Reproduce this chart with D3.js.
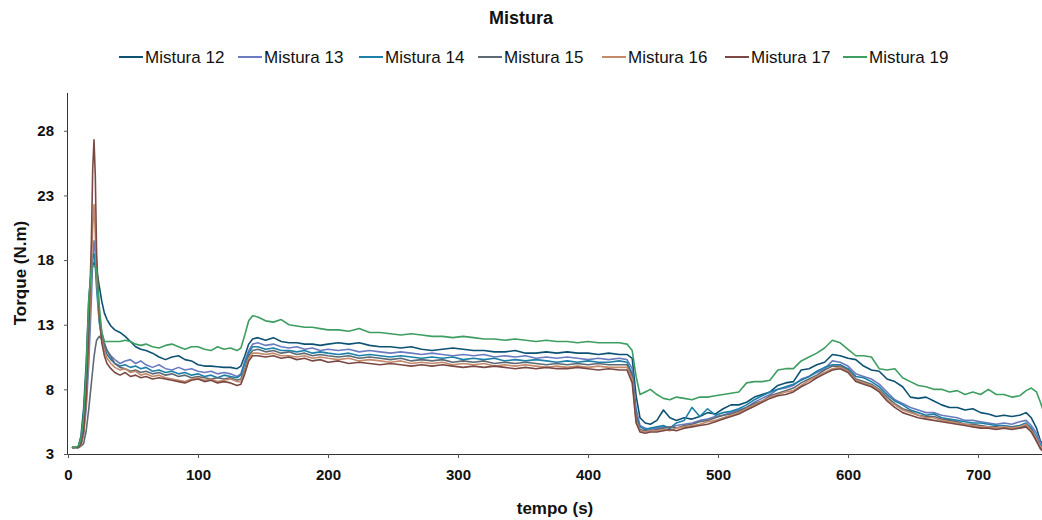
<!DOCTYPE html>
<html><head><meta charset="utf-8">
<script src="https://cdn.jsdelivr.net/npm/d3@7"></script>
<style>
html,body{margin:0;padding:0;background:#fff;}
svg{display:block;font-family:"Liberation Sans",Arial,sans-serif;}
</style></head>
<body>
<svg id="c" width="1042" height="520"></svg>
<script>
// ---------- DATA ----------
const title = "Mistura";
const xLabel = "tempo (s)";
const yLabel = "Torque (N.m)";
const xTicks = [0,100,200,300,400,500,600,700];
const yTicks = [3,8,13,18,23,28];
const seriesNames = ["Mistura 12","Mistura 13","Mistura 14","Mistura 15","Mistura 16","Mistura 17","Mistura 19"];
const seriesColors = ["#0d5173","#6b7bbf","#1c80a8","#5d6a73","#c48a6a","#7a4944","#3e9e62"];

const tempo = [3,5,8,10,12,14,16,18,19,20,21,22,24,26,28,30,33,36,40,44,48,52,56,60,65,70,75,80,85,90,95,100,105,110,115,120,125,130,133,136,139,142,
146,152,158,164,170,176,182,188,194,200,208,216,224,232,240,248,256,264,272,280,288,296,304,312,320,328,336,344,352,360,368,376,384,392,400,408,416,424,430,
434,437,440,444,448,
453,458,463,468,474,480,486,492,498,504,510,516,522,528,534,540,546,552,558,564,570,576,582,588,594,600,606,612,618,624,630,636,642,648,654,660,666,672,678,684,690,696,702,708,714,720,726,732,737,741,745,748,750];

const mistura12 = [3.5,3.5,3.6,4.4,6.5,10.0,15.0,17.3,17.6,17.8,17.6,17.3,16.0,14.8,13.9,13.4,12.9,12.6,12.4,12.1,11.7,11.3,11.1,11.0,10.8,10.5,10.3,10.5,10.6,10.3,10.2,9.9,9.8,9.8,9.75,9.7,9.7,9.6,9.8,10.6,11.5,11.9,
12.0,11.8,12.0,11.7,11.6,11.6,11.5,11.5,11.4,11.5,11.6,11.5,11.6,11.4,11.3,11.3,11.2,11.3,11.1,11.0,11.1,11.2,11.1,11.0,11.0,10.9,10.9,11.0,10.8,10.8,10.9,10.8,10.9,10.8,10.8,10.7,10.8,10.7,10.7,
10.4,7.5,5.8,5.4,5.3,
5.6,6.4,5.8,5.6,5.8,5.7,5.9,6.2,6.1,6.5,6.8,6.8,7.0,7.4,7.6,7.8,8.3,8.5,8.6,9.5,9.6,9.9,10.1,10.7,10.6,10.4,10.3,9.8,9.5,9.4,8.8,8.6,8.2,7.4,7.3,7.4,7.1,6.8,6.6,6.6,6.4,6.5,6.2,6.1,5.9,6.0,5.9,6.0,6.2,5.8,5.0,4.0,3.8];

const mistura13 = [3.5,3.5,3.5,3.7,4.5,6.5,10.0,15.0,18.0,19.5,18.5,16.5,13.8,12.4,11.6,11.0,10.6,10.3,10.0,10.2,10.3,10.0,10.2,9.9,9.7,9.9,9.6,9.5,9.7,9.5,9.6,9.4,9.3,9.4,9.2,9.3,9.2,9.0,9.2,10.2,11.0,11.5,
11.6,11.4,11.5,11.3,11.2,11.3,11.1,11.2,11.0,11.1,11.0,11.1,10.9,11.0,10.9,10.8,10.9,10.8,10.7,10.8,10.7,10.6,10.7,10.6,10.7,10.5,10.6,10.5,10.6,10.4,10.5,10.4,10.5,10.4,10.3,10.4,10.3,10.4,10.3,
9.6,6.5,5.2,5.0,4.9,
5.0,5.1,5.0,5.2,5.3,5.4,5.6,5.7,5.9,6.0,6.2,6.4,6.6,7.0,7.3,7.6,8.0,8.1,8.3,8.8,9.0,9.3,9.6,10.2,10.1,9.8,9.2,9.0,8.8,8.4,7.8,7.2,6.9,6.6,6.4,6.2,6.2,6.0,5.9,5.8,5.6,5.6,5.5,5.4,5.3,5.4,5.3,5.5,5.6,5.2,4.6,3.9,3.6];

const mistura14 = [3.5,3.5,3.5,3.8,5.0,7.5,12.0,16.5,18.3,18.5,17.5,15.8,13.2,12.0,11.2,10.7,10.3,10.0,9.8,9.9,9.7,9.8,9.6,9.7,9.4,9.5,9.3,9.4,9.2,9.3,9.1,9.2,9.0,9.1,8.9,9.1,9.0,8.9,9.1,10.0,10.8,11.3,
11.3,11.1,11.2,11.0,11.0,10.9,11.0,10.8,10.9,10.8,10.7,10.8,10.6,10.7,10.6,10.5,10.6,10.5,10.4,10.5,10.4,10.5,10.3,10.4,10.3,10.4,10.2,10.3,10.2,10.3,10.2,10.1,10.2,10.1,10.2,10.1,10.1,10.2,10.1,
9.2,6.0,5.1,4.9,5.0,
5.1,5.2,5.0,5.4,5.6,6.6,5.9,6.5,6.0,6.2,6.3,6.5,6.8,7.2,7.5,7.8,8.0,8.2,8.4,8.7,9.0,9.4,9.7,9.9,9.9,9.6,9.0,8.9,8.6,8.2,7.6,7.1,6.8,6.4,6.2,6.0,6.1,5.8,5.7,5.6,5.5,5.4,5.4,5.3,5.2,5.2,5.1,5.2,5.4,5.0,4.3,3.7,3.5];

const mistura15 = [3.5,3.5,3.5,3.6,3.8,4.8,6.5,8.5,9.5,10.5,11.2,11.8,12.1,11.9,11.5,11.0,10.5,10.0,9.7,9.6,9.4,9.5,9.3,9.4,9.2,9.3,9.1,9.2,9.0,9.1,8.9,9.0,8.9,8.8,8.9,8.8,8.9,8.7,8.8,9.6,10.6,11.0,
11.1,10.9,11.0,10.8,10.9,10.7,10.8,10.6,10.7,10.6,10.5,10.6,10.4,10.5,10.4,10.3,10.4,10.2,10.3,10.2,10.3,10.1,10.2,10.1,10.2,10.0,10.1,10.0,10.1,10.0,9.9,10.0,9.9,10.0,9.9,10.0,9.9,9.9,9.9,
9.0,5.8,4.9,4.8,4.8,
4.9,5.0,5.1,5.0,5.2,5.3,5.5,5.6,5.8,6.0,6.1,6.3,6.6,6.9,7.1,7.5,7.7,7.9,8.1,8.5,8.8,9.1,9.5,9.8,9.8,9.5,8.8,8.6,8.4,8.0,7.4,6.9,6.5,6.3,6.0,5.9,5.9,5.7,5.6,5.5,5.3,5.3,5.2,5.1,5.1,5.0,5.1,5.0,5.2,4.9,4.0,3.5,3.3];

const mistura16 = [3.5,3.5,3.5,3.7,4.6,7.0,11.5,17.0,20.5,22.3,20.0,16.8,13.5,11.8,11.0,10.4,10.0,9.7,9.5,9.6,9.3,9.4,9.1,9.2,9.0,9.1,8.9,8.8,8.7,8.6,8.8,8.9,8.7,8.8,8.6,8.7,8.8,8.6,8.6,9.4,10.4,10.8,
10.8,10.7,10.8,10.6,10.6,10.5,10.6,10.4,10.5,10.4,10.3,10.4,10.2,10.3,10.2,10.1,10.2,10.0,10.1,10.0,10.1,9.9,10.0,9.9,10.0,9.8,9.9,9.8,9.9,9.8,9.7,9.8,9.7,9.8,9.7,9.8,9.7,9.7,9.7,
8.8,5.6,4.8,4.7,4.8,
4.8,4.9,4.8,5.0,5.1,5.2,5.3,5.5,5.6,5.8,6.0,6.2,6.5,6.8,7.1,7.4,7.6,7.8,7.9,8.3,8.7,9.0,9.3,9.6,9.7,9.4,8.7,8.5,8.3,7.9,7.2,6.8,6.4,6.2,6.0,5.8,5.8,5.6,5.5,5.4,5.3,5.2,5.1,5.1,5.0,5.1,5.0,5.1,5.3,4.8,4.2,3.6,3.4];

const mistura17 = [3.5,3.5,3.5,3.8,4.8,7.5,12.5,19.5,25.0,27.3,24.5,18.5,13.8,11.6,10.6,10.0,9.6,9.3,9.1,9.3,9.0,9.1,8.9,9.0,8.8,8.9,8.8,8.7,8.6,8.5,8.7,8.8,8.6,8.7,8.5,8.6,8.5,8.3,8.4,9.2,10.2,10.6,
10.6,10.5,10.6,10.4,10.5,10.3,10.4,10.2,10.3,10.1,10.2,10.0,10.1,10.0,9.9,10.0,9.9,9.8,9.9,9.8,9.9,9.8,9.7,9.8,9.7,9.8,9.7,9.6,9.7,9.6,9.7,9.6,9.6,9.7,9.6,9.5,9.6,9.5,9.5,
8.5,5.4,4.7,4.6,4.7,
4.7,4.8,4.9,4.8,5.0,5.1,5.2,5.3,5.5,5.7,5.9,6.1,6.4,6.7,7.0,7.3,7.5,7.6,7.8,8.2,8.5,8.9,9.2,9.5,9.6,9.3,8.6,8.4,8.2,7.8,7.1,6.6,6.2,6.0,5.8,5.7,5.6,5.5,5.4,5.3,5.2,5.1,5.0,5.0,4.9,5.0,4.9,5.0,5.1,4.7,4.0,3.4,3.2];

const mistura19 = [3.5,3.5,3.6,4.2,6.0,9.5,15.0,17.4,17.5,17.5,17.5,17.3,14.5,12.4,11.7,11.7,11.7,11.7,11.7,11.8,11.7,11.5,11.4,11.5,11.3,11.2,11.4,11.5,11.3,11.1,11.3,11.3,11.1,11.0,11.3,11.1,11.2,11.0,11.2,12.2,13.3,13.7,
13.6,13.3,13.2,13.4,13.0,12.9,12.8,12.8,12.7,12.6,12.6,12.5,12.7,12.4,12.4,12.3,12.2,12.3,12.2,12.1,12.1,12.0,12.1,12.0,11.9,11.9,11.8,11.9,11.8,11.7,11.8,11.7,11.7,11.6,11.7,11.6,11.6,11.6,11.5,
11.0,9.0,7.6,7.8,8.0,
7.6,7.3,7.2,7.4,7.3,7.2,7.4,7.4,7.5,7.6,7.7,7.8,8.5,8.6,8.6,8.7,9.5,9.6,9.6,10.2,10.5,10.8,11.2,11.8,11.6,11.1,10.6,10.6,10.5,9.6,9.5,9.6,8.9,8.6,8.3,8.2,8.0,8.0,7.8,7.9,7.6,7.8,7.6,8.0,7.6,7.6,7.4,7.5,7.9,8.1,7.8,7.0,6.4];

const seriesValues = [mistura12, mistura13, mistura14, mistura15, mistura16, mistura17, mistura19];

// ---------- CHART ----------
const svg = d3.select("#c");
const x = d3.scaleLinear().domain([0, 750]).range([68, 1043]);
const y = d3.scaleLinear().domain([3, 31]).range([454, 92]);

// title
svg.append("text").attr("x", 521).attr("y", 24).attr("text-anchor", "middle")
  .attr("font-size", 18).attr("font-weight", "bold").attr("fill", "#111").text(title);

// legend
const legendX = [119, 238, 359, 478, 602, 725, 843];
const lg = svg.append("g");
seriesNames.forEach((n, i) => {
  const g = lg.append("g").attr("transform", `translate(${legendX[i]},57)`);
  g.append("line").attr("x1", 0).attr("x2", 24).attr("y1", 0).attr("y2", 0)
    .attr("stroke", seriesColors[i]).attr("stroke-width", 2);
  g.append("text").attr("x", 26).attr("y", 6).attr("font-size", 17).attr("fill", "#111").text(n);
});

// clip
svg.append("clipPath").attr("id", "clip").append("rect")
  .attr("x", 68).attr("y", 80).attr("width", 974).attr("height", 380);

// lines
const line = d3.line().x((d, i) => x(tempo[i])).y(d => y(d));
const lines = svg.append("g").attr("clip-path", "url(#clip)");
seriesValues.forEach((vals, i) => {
  lines.append("path").datum(vals).attr("d", line).attr("fill", "none")
    .attr("stroke", seriesColors[i]).attr("stroke-width", 1.6).attr("stroke-linejoin", "round");
});

// axes
const xAxis = d3.axisBottom(x).tickValues(xTicks).tickSize(4).tickSizeOuter(0).tickFormat(d3.format("d"));
const gx = svg.append("g").attr("transform", "translate(0,454)").call(xAxis);
gx.select(".domain").attr("stroke", "#333").attr("d", "M68,0.5H1042");
gx.selectAll(".tick line").attr("stroke", "#555");
gx.selectAll(".tick text").attr("font-size", 15).attr("font-weight", "bold").attr("fill", "#111")
  .attr("font-family", "Liberation Sans, Arial, sans-serif").attr("dy", "1.25em");

const yAxis = d3.axisLeft(y).tickValues(yTicks).tickSize(4).tickSizeOuter(0).tickFormat(d3.format("d"));
const gy = svg.append("g").attr("transform", "translate(68,0)").call(yAxis);
gy.select(".domain").attr("stroke", "#333").attr("d", "M-0.5,93V454");
gy.selectAll(".tick line").attr("stroke", "#555");
gy.selectAll(".tick text").attr("font-size", 15).attr("font-weight", "bold").attr("fill", "#111")
  .attr("font-family", "Liberation Sans, Arial, sans-serif").attr("x", -14);

// axis labels
svg.append("text").attr("x", 555).attr("y", 514).attr("text-anchor", "middle")
  .attr("font-size", 17).attr("font-weight", "bold").attr("fill", "#111").text(xLabel);
svg.append("text").attr("transform", "translate(26,273) rotate(-90)").attr("text-anchor", "middle")
  .attr("font-size", 17).attr("font-weight", "bold").attr("fill", "#111").text(yLabel);
</script>
</body></html>
